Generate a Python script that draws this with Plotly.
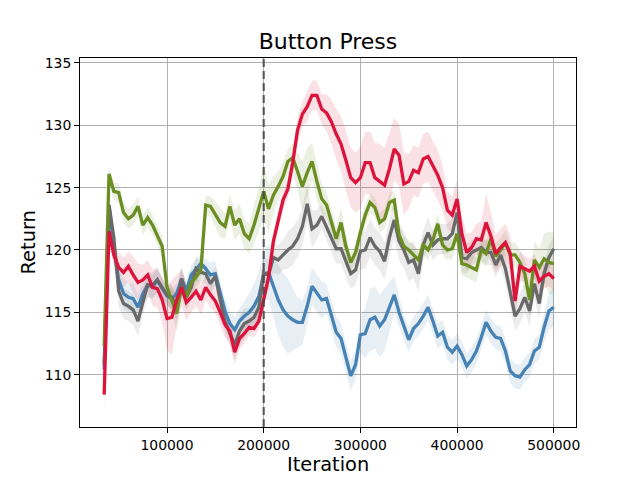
import plotly.graph_objects as go

# ---------------- data ----------------
iterations = list(range(35000, 500001, 5000))  # 94 logged iterations

red_mean = [
    108.4, 121.5, 119.6, 118.6, 118.2, 118.7, 118.0, 117.4, 117.6, 118.0,
    117.0, 116.9, 116.0, 114.5, 114.6, 116.0, 117.0, 115.8, 116.2, 116.7,
    116.0, 117.0, 116.4, 115.9, 115.0, 114.0, 113.5, 111.8, 112.9, 113.3,
    113.8, 113.7, 114.3, 116.2, 117.8, 120.7, 122.3, 124.0, 124.9, 127.0,
    129.6, 130.9, 131.5, 132.4, 132.4, 131.3, 131.0, 130.3, 129.3, 128.5,
    127.2, 125.8, 125.4, 125.8, 127.0, 127.0, 125.8, 125.5, 125.2, 126.5,
    128.1, 127.6, 125.3, 125.5, 126.4, 126.2, 127.3, 127.5, 126.7, 126.0,
    125.0, 123.2, 122.8, 124.1, 121.3, 119.8, 120.2, 120.9, 120.8, 122.2,
    121.1, 119.7, 120.2, 120.6, 119.7, 115.9, 118.7, 118.5, 118.3, 118.7,
    117.5, 117.9, 118.1, 117.7,
]
red_spread = [
    1.5, 1.0, 1.0, 1.2, 1.2, 1.2, 1.5, 1.5, 1.2, 1.2,
    1.5, 1.5, 1.8, 2.5, 3.0, 2.0, 1.5, 1.5, 1.2, 1.2,
    1.2, 1.0, 1.0, 1.0, 1.0, 1.0, 1.0, 1.0, 0.8, 0.8,
    0.7, 0.7, 0.7, 0.8, 0.8, 0.8, 0.8, 0.8, 0.8, 1.0,
    1.0, 1.0, 1.2, 1.2, 1.2, 1.2, 1.5, 1.8, 2.0, 2.2,
    2.4, 2.4, 2.4, 2.5, 2.5, 2.5, 2.8, 3.0, 3.0, 3.0,
    2.5, 2.5, 2.5, 2.2, 2.0, 2.0, 2.0, 2.0, 2.0, 2.0,
    1.8, 1.5, 1.5, 1.5, 1.5, 1.5, 1.2, 1.2, 1.5, 2.3,
    2.0, 1.5, 1.5, 1.5, 1.5, 1.5, 1.2, 1.0, 1.0, 1.0,
    1.0, 1.0, 1.0, 1.0,
]

green_mean = [
    112.3, 126.1, 124.7, 124.6, 123.0, 122.5, 122.8, 123.5, 122.0, 122.6,
    122.0, 121.2, 120.3, 117.0, 115.9, 114.9, 117.0, 116.2, 117.4, 117.8,
    118.4, 123.6, 123.5, 122.9, 122.2, 121.9, 123.5, 122.0, 122.5, 121.3,
    120.9, 122.0, 123.3, 124.7, 123.3, 124.4, 125.1, 125.9, 127.1, 127.4,
    126.3, 125.1, 126.2, 127.1, 125.5, 124.1, 123.6, 122.3, 120.9, 122.2,
    120.3, 119.0, 119.8, 121.4, 122.8, 123.8, 123.4, 122.2, 122.5, 123.8,
    124.0, 121.2, 120.3, 120.0, 119.6, 119.2, 120.4, 120.0, 120.8, 122.1,
    120.4, 120.0, 120.1, 121.3, 118.9, 118.8, 118.6, 118.4, 120.0, 119.7,
    120.9, 119.5, 120.0, 120.6, 119.6, 119.6, 119.0, 118.1, 116.0, 119.2,
    118.6, 119.3, 119.0, 118.9,
]
green_spread = [
    0.8, 0.5, 0.7, 0.8, 0.8, 0.8, 0.8, 0.8, 0.8, 0.8,
    0.8, 0.8, 0.8, 1.0, 1.0, 1.5, 1.0, 1.0, 1.0, 0.8,
    1.0, 0.8, 0.8, 1.0, 1.2, 1.0, 1.0, 1.2, 1.2, 1.2,
    1.2, 1.5, 1.8, 2.2, 2.0, 1.5, 1.2, 1.2, 1.0, 1.2,
    1.5, 2.0, 2.0, 1.5, 1.5, 1.2, 1.0, 1.0, 1.0, 1.2,
    1.0, 0.8, 0.8, 0.8, 0.8, 0.8, 0.8, 0.8, 0.8, 0.8,
    0.8, 0.8, 0.8, 0.8, 0.8, 0.8, 0.8, 0.8, 0.8, 0.8,
    0.8, 0.8, 0.8, 0.8, 1.0, 1.0, 1.0, 1.0, 1.0, 1.0,
    1.0, 1.0, 1.0, 1.0, 1.0, 1.0, 1.0, 1.2, 1.5, 1.5,
    1.5, 2.0, 2.5, 2.5,
]

blue_mean = [
    110.4, 123.6, 120.2, 117.6, 116.5, 116.2, 116.1, 115.4, 116.5, 117.2,
    117.0, 117.6, 116.9, 116.3, 116.1, 116.5, 117.7, 116.7, 118.0, 118.5,
    118.9, 118.5, 118.0, 118.1, 116.5, 115.1, 114.1, 113.6, 114.3, 114.7,
    115.0, 115.5, 116.3, 118.0, 118.2, 117.0, 116.0, 115.2, 114.7, 114.4,
    114.2, 114.2, 115.5, 117.1, 116.5, 116.0, 116.1, 114.7, 113.4, 112.9,
    111.3, 109.9, 110.8, 113.2, 113.3, 114.4, 114.6, 113.9, 114.4, 115.4,
    116.4, 115.0, 113.8, 112.8, 113.7, 114.1, 114.7, 115.4, 114.3, 113.1,
    113.4, 112.2, 111.8, 112.3, 111.6, 110.7, 111.2, 111.9, 113.0, 114.2,
    113.5, 113.0, 112.9, 111.9, 110.3, 109.9, 109.8, 110.4, 110.8, 111.9,
    112.2, 113.8, 115.1, 115.4,
]
blue_spread = [
    1.0, 0.6, 1.0, 1.2, 1.2, 1.2, 1.2, 1.0, 1.0, 1.0,
    1.0, 1.0, 0.8, 0.8, 0.8, 0.8, 0.8, 0.8, 0.8, 0.8,
    0.8, 0.8, 1.0, 1.0, 1.0, 1.0, 1.0, 1.0, 1.0, 1.2,
    1.5, 1.8, 2.0, 2.0, 2.2, 2.5, 2.8, 3.0, 3.0, 2.5,
    2.0, 1.8, 1.5, 1.5, 1.5, 1.5, 1.2, 1.2, 1.2, 1.2,
    1.2, 1.2, 1.2, 1.5, 2.0, 2.5, 2.5, 2.5, 2.5, 2.0,
    1.5, 1.2, 1.0, 1.0, 1.0, 1.0, 1.0, 1.0, 1.0, 1.0,
    1.0, 1.0, 1.0, 1.0, 1.0, 1.0, 1.0, 1.0, 1.0, 1.0,
    1.0, 1.0, 1.0, 1.0, 1.0, 1.0, 1.0, 1.0, 1.0, 1.0,
    1.0, 1.2, 1.5, 1.5,
]

gray_mean = [
    110.8, 123.6, 121.0, 116.7, 115.7, 115.5, 115.2, 114.3, 115.8, 117.2,
    117.2, 117.6, 117.0, 116.4, 116.2, 115.4, 117.7, 116.2, 117.0, 118.5,
    118.2, 118.1, 117.3, 117.9, 116.0, 114.3, 113.3, 112.4, 113.5, 114.1,
    114.3, 114.6, 115.4, 118.2, 118.0, 119.4, 119.2, 119.6, 120.0, 120.3,
    120.9, 121.9, 123.7, 121.7, 122.0, 122.7, 121.8, 121.0, 120.1, 120.1,
    119.0, 118.1, 118.4, 119.9, 120.0, 121.0, 120.3, 119.9, 119.1, 121.0,
    122.4, 120.7, 120.0, 119.0, 119.2, 118.1, 120.4, 121.4, 120.4, 120.8,
    120.9, 120.9, 121.3, 123.0, 119.4, 119.3, 119.8, 120.0, 120.2, 119.8,
    119.8, 118.8, 119.6, 118.5, 116.7, 114.7, 115.3, 116.2, 115.1, 117.3,
    115.7, 118.1, 119.4, 120.1,
]
gray_spread = [
    1.0, 0.6, 1.0, 1.2, 1.2, 1.2, 1.2, 1.2, 1.0, 1.0,
    1.0, 1.0, 0.8, 0.8, 1.0, 1.0, 1.0, 1.0, 1.0, 1.0,
    0.8, 0.8, 0.8, 0.8, 0.8, 1.0, 1.0, 1.2, 1.2, 1.2,
    1.0, 1.0, 1.2, 1.2, 1.2, 1.2, 1.2, 1.2, 1.5, 1.5,
    1.5, 1.5, 1.5, 1.5, 1.2, 1.0, 1.0, 1.2, 1.2, 1.2,
    1.2, 1.2, 1.2, 1.5, 1.5, 1.5, 1.5, 1.5, 1.5, 1.5,
    1.5, 1.5, 1.5, 1.5, 1.5, 1.5, 1.2, 1.2, 1.2, 1.2,
    1.2, 1.2, 1.2, 1.5, 1.2, 1.2, 1.0, 1.0, 1.0, 1.0,
    1.0, 1.0, 1.0, 1.2, 1.2, 1.2, 1.2, 1.2, 1.2, 1.2,
    1.2, 1.0, 1.0, 1.0,
]

switch_iteration = 200000
x_tick_vals = [100000, 200000, 300000, 400000, 500000]
x_tick_text = ["100000", "200000", "300000", "400000", "500000"]
y_tick_vals = [110, 115, 120, 125, 130, 135]

title_text = "Button Press"
x_label = "Iteration"
y_label = "Return"

series = [
    ("blue", blue_mean, blue_spread, "#4682B4", "rgba(70,130,180,0.13)"),
    ("gray", gray_mean, gray_spread, "#696969", "rgba(105,105,105,0.13)"),
    ("green", green_mean, green_spread, "#6B8E23", "rgba(107,142,35,0.13)"),
    ("red", red_mean, red_spread, "#DC143C", "rgba(220,20,60,0.13)"),
]

FONT = "DejaVu Sans, Liberation Sans, sans-serif"

# The page body has an 8px margin, so the figure is sized/positioned to
# compensate (figure origin sits at page (8, 8)).
FIG_W, FIG_H = 632, 472
M_L, M_R, M_T, M_B = 72, 64, 50, 53
PLOT_W = FIG_W - M_L - M_R
PLOT_H = FIG_H - M_T - M_B

fig = go.Figure()

# bands first
for name, mean, spread, col, fillcol in series:
    upper = [m + s for m, s in zip(mean, spread)]
    lower = [m - s for m, s in zip(mean, spread)]
    fig.add_trace(go.Scatter(
        x=iterations + iterations[::-1],
        y=upper + lower[::-1],
        fill="toself", fillcolor=fillcol,
        line=dict(width=0), mode="lines",
        hoverinfo="skip", showlegend=False,
    ))

for name, mean, spread, col, fillcol in series:
    fig.add_trace(go.Scatter(
        x=iterations, y=mean, mode="lines", name=name,
        line=dict(color=col, width=3.3),
        showlegend=False,
    ))

fig.add_shape(
    type="line", x0=switch_iteration, x1=switch_iteration,
    y0=0, y1=1, xref="x", yref="paper",
    line=dict(color="rgba(70,70,70,0.85)", width=2.2, dash="8px,4px"),
    layer="above",
)

axis_common = dict(
    showline=True, linecolor="black", linewidth=1, mirror=True,
    ticks="outside", ticklen=5, tickwidth=1, tickcolor="black",
    showgrid=True, gridcolor="#b0b0b0", gridwidth=1.1,
    zeroline=False,
    tickfont=dict(family=FONT, size=13.9, color="black"),
)

fig.update_layout(
    width=FIG_W, height=FIG_H,
    margin=dict(l=M_L, r=M_R, t=M_T, b=M_B, autoexpand=False),
    paper_bgcolor="white", plot_bgcolor="white",
    font=dict(family=FONT, color="black"),
    title=dict(text=title_text, x=0.5, xanchor="center", xref="paper",
               y=1 - 33 / FIG_H, yanchor="middle", yref="container",
               font=dict(family=FONT, size=22, color="black")),
    xaxis=dict(range=[10000, 523000], tickvals=x_tick_vals,
               ticktext=x_tick_text, **axis_common),
    yaxis=dict(range=[105.8, 135.4], tickvals=y_tick_vals, **axis_common),
    annotations=[
        dict(text=x_label, x=0.5, xref="paper", y=-(465 - 427) / PLOT_H,
             yref="paper", xanchor="center", yanchor="middle",
             showarrow=False, font=dict(family=FONT, size=19.4, color="black")),
        dict(text=y_label, x=-(80 - 28) / PLOT_W, xref="paper", y=0.5,
             yref="paper", xanchor="center", yanchor="middle", textangle=-90,
             showarrow=False, font=dict(family=FONT, size=19.4, color="black")),
    ],
)

fig.write_html("out.html")
